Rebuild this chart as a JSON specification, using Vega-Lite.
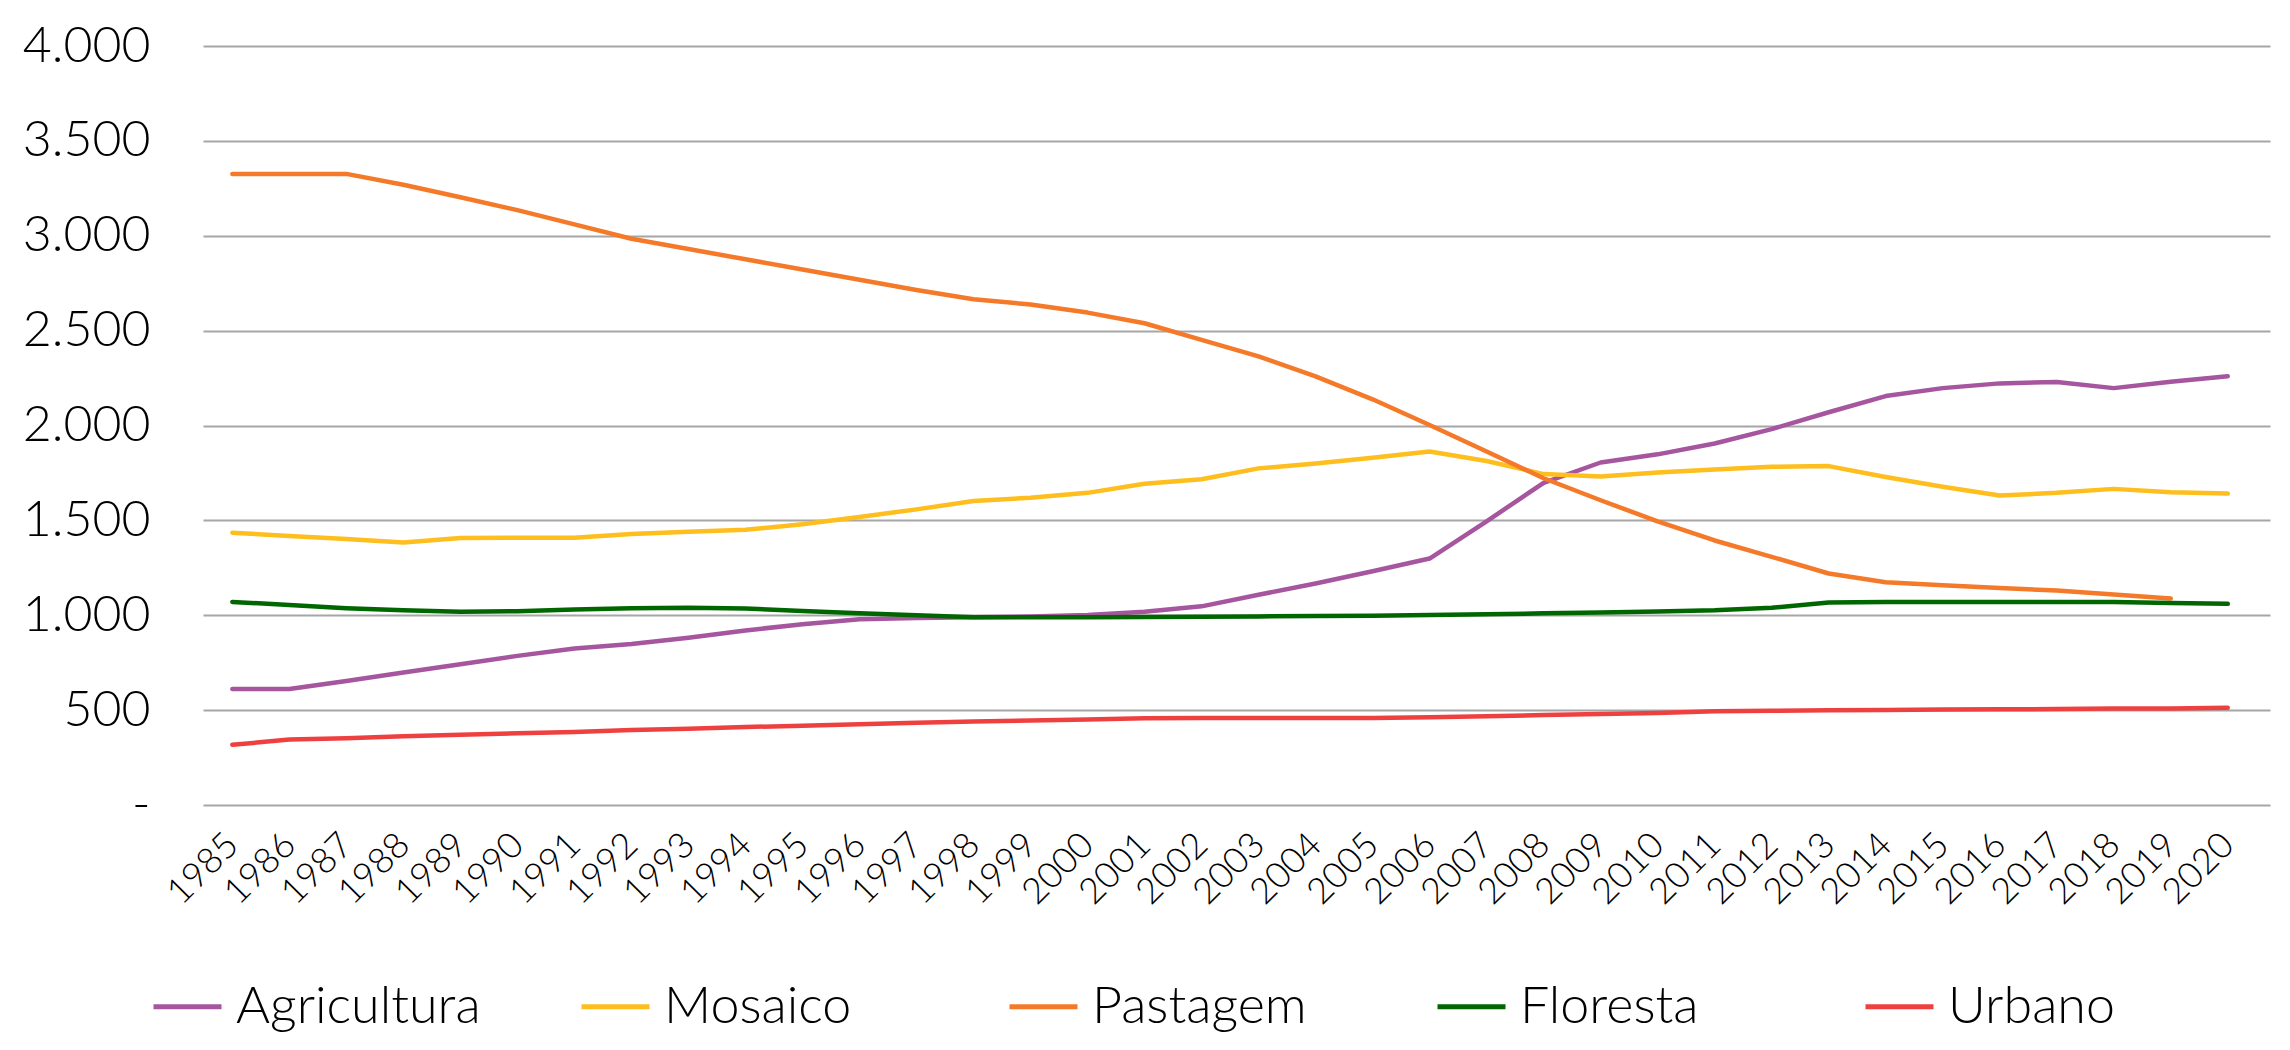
{
  "$schema": "https://vega.github.io/schema/vega-lite/v6.json",
  "autosize": {"type": "none"},
  "padding": {"left": 203, "top": 46, "right": 20, "bottom": 245},
  "width": 2067,
  "height": 759,
  "background": "white",
  "config": {
    "view": {"stroke": null},
    "font": "Lato"
  },
  "data": {
    "values": [
      {"ano":"1985","serie":"Agricultura","valor":611},{"ano":"1986","serie":"Agricultura","valor":611},{"ano":"1987","serie":"Agricultura","valor":654},{"ano":"1988","serie":"Agricultura","valor":698},{"ano":"1989","serie":"Agricultura","valor":742},{"ano":"1990","serie":"Agricultura","valor":786},{"ano":"1991","serie":"Agricultura","valor":825},{"ano":"1992","serie":"Agricultura","valor":849},{"ano":"1993","serie":"Agricultura","valor":882},{"ano":"1994","serie":"Agricultura","valor":920},{"ano":"1995","serie":"Agricultura","valor":953},{"ano":"1996","serie":"Agricultura","valor":979},{"ano":"1997","serie":"Agricultura","valor":986},{"ano":"1998","serie":"Agricultura","valor":990},{"ano":"1999","serie":"Agricultura","valor":993},{"ano":"2000","serie":"Agricultura","valor":1001},{"ano":"2001","serie":"Agricultura","valor":1019},{"ano":"2002","serie":"Agricultura","valor":1047},{"ano":"2003","serie":"Agricultura","valor":1108},{"ano":"2004","serie":"Agricultura","valor":1167},{"ano":"2005","serie":"Agricultura","valor":1232},{"ano":"2006","serie":"Agricultura","valor":1299},{"ano":"2007","serie":"Agricultura","valor":1495},{"ano":"2008","serie":"Agricultura","valor":1698},{"ano":"2009","serie":"Agricultura","valor":1805},{"ano":"2010","serie":"Agricultura","valor":1848},{"ano":"2011","serie":"Agricultura","valor":1905},{"ano":"2012","serie":"Agricultura","valor":1981},{"ano":"2013","serie":"Agricultura","valor":2070},{"ano":"2014","serie":"Agricultura","valor":2155},{"ano":"2015","serie":"Agricultura","valor":2197},{"ano":"2016","serie":"Agricultura","valor":2222},{"ano":"2017","serie":"Agricultura","valor":2229},{"ano":"2018","serie":"Agricultura","valor":2197},{"ano":"2019","serie":"Agricultura","valor":2230},{"ano":"2020","serie":"Agricultura","valor":2260},
      {"ano":"1985","serie":"Mosaico","valor":1435},{"ano":"1986","serie":"Mosaico","valor":1418},{"ano":"1987","serie":"Mosaico","valor":1402},{"ano":"1988","serie":"Mosaico","valor":1383},{"ano":"1989","serie":"Mosaico","valor":1407},{"ano":"1990","serie":"Mosaico","valor":1409},{"ano":"1991","serie":"Mosaico","valor":1409},{"ano":"1992","serie":"Mosaico","valor":1428},{"ano":"1993","serie":"Mosaico","valor":1440},{"ano":"1994","serie":"Mosaico","valor":1450},{"ano":"1995","serie":"Mosaico","valor":1480},{"ano":"1996","serie":"Mosaico","valor":1518},{"ano":"1997","serie":"Mosaico","valor":1558},{"ano":"1998","serie":"Mosaico","valor":1602},{"ano":"1999","serie":"Mosaico","valor":1619},{"ano":"2000","serie":"Mosaico","valor":1645},{"ano":"2001","serie":"Mosaico","valor":1693},{"ano":"2002","serie":"Mosaico","valor":1717},{"ano":"2003","serie":"Mosaico","valor":1774},{"ano":"2004","serie":"Mosaico","valor":1800},{"ano":"2005","serie":"Mosaico","valor":1830},{"ano":"2006","serie":"Mosaico","valor":1863},{"ano":"2007","serie":"Mosaico","valor":1813},{"ano":"2008","serie":"Mosaico","valor":1744},{"ano":"2009","serie":"Mosaico","valor":1731},{"ano":"2010","serie":"Mosaico","valor":1752},{"ano":"2011","serie":"Mosaico","valor":1768},{"ano":"2012","serie":"Mosaico","valor":1782},{"ano":"2013","serie":"Mosaico","valor":1786},{"ano":"2014","serie":"Mosaico","valor":1729},{"ano":"2015","serie":"Mosaico","valor":1677},{"ano":"2016","serie":"Mosaico","valor":1631},{"ano":"2017","serie":"Mosaico","valor":1645},{"ano":"2018","serie":"Mosaico","valor":1666},{"ano":"2019","serie":"Mosaico","valor":1648},{"ano":"2020","serie":"Mosaico","valor":1641},
      {"ano":"1985","serie":"Pastagem","valor":3326},{"ano":"1986","serie":"Pastagem","valor":3326},{"ano":"1987","serie":"Pastagem","valor":3326},{"ano":"1988","serie":"Pastagem","valor":3269},{"ano":"1989","serie":"Pastagem","valor":3203},{"ano":"1990","serie":"Pastagem","valor":3135},{"ano":"1991","serie":"Pastagem","valor":3060},{"ano":"1992","serie":"Pastagem","valor":2984},{"ano":"1993","serie":"Pastagem","valor":2930},{"ano":"1994","serie":"Pastagem","valor":2876},{"ano":"1995","serie":"Pastagem","valor":2822},{"ano":"1996","serie":"Pastagem","valor":2768},{"ano":"1997","serie":"Pastagem","valor":2714},{"ano":"1998","serie":"Pastagem","valor":2665},{"ano":"1999","serie":"Pastagem","valor":2638},{"ano":"2000","serie":"Pastagem","valor":2595},{"ano":"2001","serie":"Pastagem","valor":2539},{"ano":"2002","serie":"Pastagem","valor":2451},{"ano":"2003","serie":"Pastagem","valor":2364},{"ano":"2004","serie":"Pastagem","valor":2259},{"ano":"2005","serie":"Pastagem","valor":2138},{"ano":"2006","serie":"Pastagem","valor":2003},{"ano":"2007","serie":"Pastagem","valor":1863},{"ano":"2008","serie":"Pastagem","valor":1722},{"ano":"2009","serie":"Pastagem","valor":1606},{"ano":"2010","serie":"Pastagem","valor":1495},{"ano":"2011","serie":"Pastagem","valor":1394},{"ano":"2012","serie":"Pastagem","valor":1308},{"ano":"2013","serie":"Pastagem","valor":1220},{"ano":"2014","serie":"Pastagem","valor":1174},{"ano":"2015","serie":"Pastagem","valor":1158},{"ano":"2016","serie":"Pastagem","valor":1144},{"ano":"2017","serie":"Pastagem","valor":1130},{"ano":"2018","serie":"Pastagem","valor":1109},{"ano":"2019","serie":"Pastagem","valor":1088},
      {"ano":"1985","serie":"Floresta","valor":1070},{"ano":"1986","serie":"Floresta","valor":1054},{"ano":"1987","serie":"Floresta","valor":1037},{"ano":"1988","serie":"Floresta","valor":1026},{"ano":"1989","serie":"Floresta","valor":1019},{"ano":"1990","serie":"Floresta","valor":1021},{"ano":"1991","serie":"Floresta","valor":1030},{"ano":"1992","serie":"Floresta","valor":1037},{"ano":"1993","serie":"Floresta","valor":1040},{"ano":"1994","serie":"Floresta","valor":1035},{"ano":"1995","serie":"Floresta","valor":1023},{"ano":"1996","serie":"Floresta","valor":1011},{"ano":"1997","serie":"Floresta","valor":1000},{"ano":"1998","serie":"Floresta","valor":990},{"ano":"1999","serie":"Floresta","valor":990},{"ano":"2000","serie":"Floresta","valor":990},{"ano":"2001","serie":"Floresta","valor":991},{"ano":"2002","serie":"Floresta","valor":992},{"ano":"2003","serie":"Floresta","valor":994},{"ano":"2004","serie":"Floresta","valor":996},{"ano":"2005","serie":"Floresta","valor":998},{"ano":"2006","serie":"Floresta","valor":1001},{"ano":"2007","serie":"Floresta","valor":1005},{"ano":"2008","serie":"Floresta","valor":1010},{"ano":"2009","serie":"Floresta","valor":1015},{"ano":"2010","serie":"Floresta","valor":1020},{"ano":"2011","serie":"Floresta","valor":1026},{"ano":"2012","serie":"Floresta","valor":1039},{"ano":"2013","serie":"Floresta","valor":1067},{"ano":"2014","serie":"Floresta","valor":1070},{"ano":"2015","serie":"Floresta","valor":1070},{"ano":"2016","serie":"Floresta","valor":1070},{"ano":"2017","serie":"Floresta","valor":1070},{"ano":"2018","serie":"Floresta","valor":1070},{"ano":"2019","serie":"Floresta","valor":1065},{"ano":"2020","serie":"Floresta","valor":1060},
      {"ano":"1985","serie":"Urbano","valor":317},{"ano":"1986","serie":"Urbano","valor":345},{"ano":"1987","serie":"Urbano","valor":352},{"ano":"1988","serie":"Urbano","valor":362},{"ano":"1989","serie":"Urbano","valor":370},{"ano":"1990","serie":"Urbano","valor":378},{"ano":"1991","serie":"Urbano","valor":385},{"ano":"1992","serie":"Urbano","valor":395},{"ano":"1993","serie":"Urbano","valor":402},{"ano":"1994","serie":"Urbano","valor":411},{"ano":"1995","serie":"Urbano","valor":418},{"ano":"1996","serie":"Urbano","valor":426},{"ano":"1997","serie":"Urbano","valor":434},{"ano":"1998","serie":"Urbano","valor":440},{"ano":"1999","serie":"Urbano","valor":445},{"ano":"2000","serie":"Urbano","valor":451},{"ano":"2001","serie":"Urbano","valor":457},{"ano":"2002","serie":"Urbano","valor":459},{"ano":"2003","serie":"Urbano","valor":459},{"ano":"2004","serie":"Urbano","valor":459},{"ano":"2005","serie":"Urbano","valor":459},{"ano":"2006","serie":"Urbano","valor":462},{"ano":"2007","serie":"Urbano","valor":468},{"ano":"2008","serie":"Urbano","valor":474},{"ano":"2009","serie":"Urbano","valor":479},{"ano":"2010","serie":"Urbano","valor":485},{"ano":"2011","serie":"Urbano","valor":494},{"ano":"2012","serie":"Urbano","valor":497},{"ano":"2013","serie":"Urbano","valor":499},{"ano":"2014","serie":"Urbano","valor":501},{"ano":"2015","serie":"Urbano","valor":503},{"ano":"2016","serie":"Urbano","valor":504},{"ano":"2017","serie":"Urbano","valor":506},{"ano":"2018","serie":"Urbano","valor":508},{"ano":"2019","serie":"Urbano","valor":509},{"ano":"2020","serie":"Urbano","valor":513}
    ]
  },
  "mark": {"type": "line", "strokeWidth": 4.5, "strokeCap": "round", "strokeJoin": "round"},
  "encoding": {
    "x": {
      "field": "ano", "type": "ordinal", "title": null,
      "scale": {"type": "point", "padding": 0.628, "align": 0.41},
      "axis": {
        "domain": false, "ticks": false, "grid": false,
        "labelAngle": -45, "labelAlign": "right", "labelBaseline": "middle",
        "labelFont": "Lato", "labelFontWeight": 300, "labelFontSize": 36,
        "labelColor": "#000000", "labelPadding": 34, "labelOverlap": false
      }
    },
    "y": {
      "field": "valor", "type": "quantitative", "title": null,
      "scale": {"domain": [0, 4000], "nice": false},
      "axis": {
        "values": [0, 500, 1000, 1500, 2000, 2500, 3000, 3500, 4000],
        "labelExpr": "datum.value == 0 ? '-' : replace(format(datum.value, ','), ',', '.')",
        "domain": false, "ticks": false, "grid": true,
        "gridColor": "#a6a6a6", "gridWidth": 2,
        "labelFont": "Lato", "labelFontWeight": 300, "labelFontSize": 50,
        "labelColor": "#000000", "labelPadding": 53
      }
    },
    "color": {
      "field": "serie", "type": "nominal",
      "scale": {
        "domain": ["Agricultura", "Mosaico", "Pastagem", "Floresta", "Urbano"],
        "range": ["#a6559f", "#fdbe1e", "#f47a2a", "#006600", "#ef4040"]
      },
      "legend": {
        "title": null, "orient": "none", "legendX": -52, "legendY": 924,
        "direction": "horizontal", "columns": 5, "gridAlign": "all", "columnPadding": 90,
        "symbolType": "stroke", "symbolSize": 4624, "symbolStrokeWidth": 5,
        "labelFont": "Lato", "labelFontWeight": 300, "labelFontSize": 52,
        "labelColor": "#000000", "labelOffset": 12, "labelLimit": 500
      }
    }
  }
}
